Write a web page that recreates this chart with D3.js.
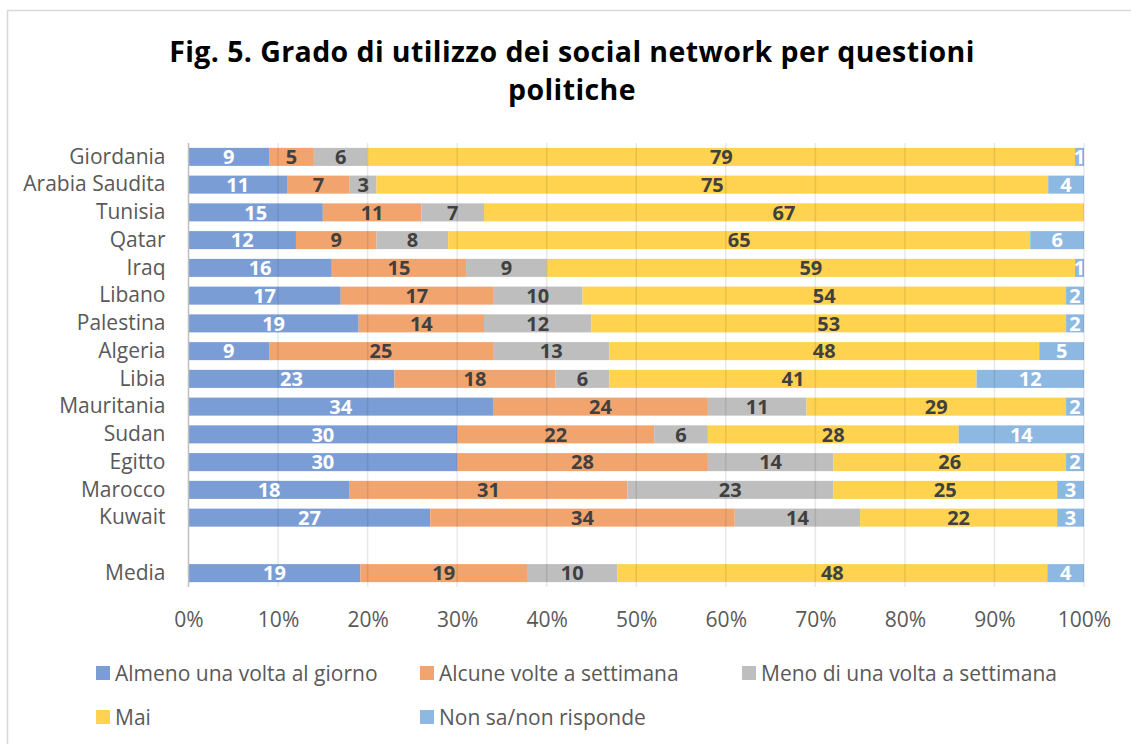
<!DOCTYPE html>
<html>
<head>
<meta charset="utf-8">
<script src="https://cdn.jsdelivr.net/npm/d3@7"></script>
<style>
  body { margin: 0; background: #fff; }
  svg text { font-family: "Open Sans", sans-serif; }
</style>
</head>
<body>
<div id="chart"></div>
<script>
// data
const paesi = ["Giordania", "Arabia Saudita", "Tunisia", "Qatar", "Iraq", "Libano", "Palestina",
  "Algeria", "Libia", "Mauritania", "Sudan", "Egitto", "Marocco", "Kuwait", " ", "Media"];
const serie = ["Almeno una volta al giorno", "Alcune volte a settimana",
  "Meno di una volta a settimana", "Mai", "Non sa/non risponde"];
const almeno = [9, 11, 15, 12, 16, 17, 19, 9, 23, 34, 30, 30, 18, 27, null, 19.2];
const alcune = [5, 7, 11, 9, 15, 17, 14, 25, 18, 24, 22, 28, 31, 34, null, 18.6];
const meno = [6, 3, 7, 8, 9, 10, 12, 13, 6, 11, 6, 14, 23, 14, null, 10.1];
const mai = [79, 75, 67, 65, 59, 54, 53, 48, 41, 29, 28, 26, 25, 22, null, 48.0];
const nonSa = [1, 4, 0, 6, 1, 2, 2, 5, 12, 2, 14, 2, 3, 3, null, 4.1];
const ticks = [0, 0.1, 0.2, 0.3, 0.4, 0.5, 0.6, 0.7, 0.8, 0.9, 1];

const colori = ["#7b9dd6", "#f1a46e", "#bebebe", "#ffd24f", "#8db8e1"];
const coloriTesto = ["#ffffff", "#404040", "#404040", "#404040", "#ffffff"];

const width = 1131;
const height = 744;

const svg = d3.select("#chart").append("svg")
  .attr("width", width)
  .attr("height", height);

svg.append("rect")
  .attr("x", 7.5)
  .attr("y", 10.5)
  .attr("width", 1140)
  .attr("height", 760)
  .attr("fill", "#fff")
  .attr("stroke", "#d9d9d9")
  .attr("stroke-width", 1.5);

// title
const titolo = svg.append("text")
  .attr("text-anchor", "middle")
  .attr("font-size", 28.5)
  .attr("font-weight", "bold")
  .attr("letter-spacing", 0.4)
  .attr("fill", "#000");
titolo.append("tspan").attr("x", 572).attr("y", 62)
  .text("Fig. 5. Grado di utilizzo dei social network per questioni");
titolo.append("tspan").attr("x", 572).attr("y", 100).text("politiche");

const x = d3.scaleLinear().domain([0, 1]).range([188.5, 1084]);
const y = d3.scaleBand()
  .domain(paesi)
  .range([143, 587])
  .paddingInner(0.35)
  .paddingOuter(0.175);

// stacked rows
const righe = paesi.map((p, i) => ({
  paese: p,
  v: [almeno[i], alcune[i], meno[i], mai[i], nonSa[i]]
})).filter(d => d.v[0] !== null);

const segmenti = [];
righe.forEach(r => {
  let acc = 0;
  r.v.forEach((v, k) => {
    segmenti.push({ paese: r.paese, k: k, v: v, x0: acc, x1: acc + v });
    acc += v;
  });
});

const gBar = svg.append("g");
gBar.selectAll("rect")
  .data(segmenti.filter(d => d.v > 0))
  .enter()
  .append("rect")
  .attr("x", d => x(d.x0 / 100))
  .attr("y", d => y(d.paese))
  .attr("width", d => x(d.x1 / 100) - x(d.x0 / 100))
  .attr("height", y.bandwidth())
  .attr("fill", d => colori[d.k]);

// gridlines over the bars, faint
svg.append("g")
  .selectAll("line")
  .data(ticks.slice(1))
  .enter()
  .append("line")
  .attr("x1", d => x(d))
  .attr("x2", d => x(d))
  .attr("y1", 143)
  .attr("y2", 587)
  .attr("stroke", "#000")
  .attr("stroke-opacity", 0.09)
  .attr("stroke-width", 1.5);

svg.append("line")
  .attr("x1", x(0))
  .attr("x2", x(0))
  .attr("y1", 143)
  .attr("y2", 587)
  .attr("stroke", "#bfbfbf")
  .attr("stroke-width", 1.5);

// value labels
svg.append("g")
  .selectAll("text")
  .data(segmenti.filter(d => d.v > 0))
  .enter()
  .append("text")
  .attr("x", d => x((d.x0 + d.x1) / 2 / 100))
  .attr("y", d => y(d.paese) + y.bandwidth() / 2)
  .attr("dy", "0.36em")
  .attr("text-anchor", "middle")
  .attr("font-size", 20)
  .attr("font-weight", "bold")
  .attr("fill", d => coloriTesto[d.k])
  .text(d => Math.round(d.v));

// axes
const assey = svg.append("g")
  .attr("transform", `translate(${x(0)},0)`)
  .call(d3.axisLeft(y).tickSize(0).tickPadding(23));
assey.select(".domain").remove();
assey.selectAll("text")
  .attr("font-size", 21)
  .attr("fill", "#595959")
  .style("font-family", "'Open Sans', sans-serif");

const assex = svg.append("g")
  .attr("transform", "translate(0,609)")
  .call(d3.axisBottom(x).tickValues(ticks).tickFormat(d3.format(".0%")).tickSize(0));
assex.select(".domain").remove();
assex.selectAll("text")
  .attr("font-size", 21)
  .attr("fill", "#595959")
  .style("font-family", "'Open Sans', sans-serif");

// legend
const posLegenda = [[96, 673], [420, 673], [742, 673], [96, 717], [420, 717]];
const legenda = svg.append("g")
  .selectAll("g")
  .data(serie)
  .enter()
  .append("g")
  .attr("transform", (d, i) => `translate(${posLegenda[i][0]},${posLegenda[i][1]})`);
legenda.append("rect")
  .attr("x", 0)
  .attr("y", -7)
  .attr("width", 14)
  .attr("height", 14)
  .attr("fill", (d, i) => colori[i]);
legenda.append("text")
  .attr("x", 19)
  .attr("dy", "0.36em")
  .attr("font-size", 21)
  .attr("fill", "#595959")
  .text(d => d);
</script>
</body>
</html>
